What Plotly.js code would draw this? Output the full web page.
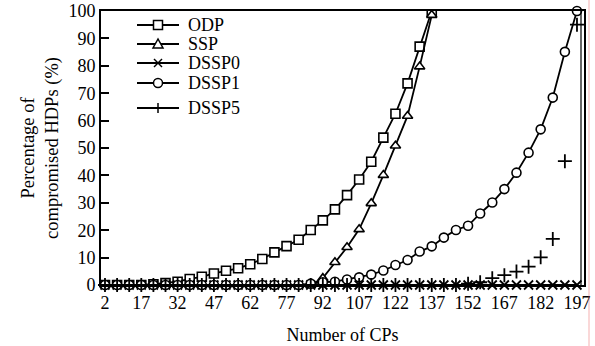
<!DOCTYPE html>
<html>
<head>
<meta charset="utf-8">
<script src="https://cdn.plot.ly/plotly-3.0.1.min.js"></script>
<style>html,body{margin:0;padding:0;background:#fff;}#chart{width:595px;height:346px;}</style>
</head>
<body>
<div id="chart"></div>
<script>
// Number of CPs (x categories)
const numCPs = [2,7,12,17,22,27,32,37,42,47,52,57,62,67,72,77,82,87,92,97,102,107,112,117,122,127,132,137,142,147,152,157,162,167,172,177,182,187,192,197];
const tickCPs = [2,17,32,47,62,77,92,107,122,137,152,167,182,197];

// Percentage of compromised HDPs (%)
const odpX = [2,7,12,17,22,27,32,37,42,47,52,57,62,67,72,77,82,87,92,97,102,107,112,117,122,127,132,137];
const odp  = [0,0,0,0,0.3,0.7,1.2,2.2,3,4.2,5.2,6.1,7.6,9.5,11.9,14.2,16.5,20.1,23.6,27.6,32.8,38.5,45,53.8,62.5,73.6,87,100];
const sspX = [2,7,12,17,22,27,32,37,42,47,52,57,62,67,72,77,82,87,92,97,102,107,112,117,122,127,132,137];
const ssp  = [0,0,0,0,0,0,0,0,0,0,0,0,0,0,0,0,0,0,2.5,8.3,13.8,20.3,29.8,40.1,50.8,61.7,79.7,98.5];
const dssp0 = [0,0,0,0,0,0,0,0,0,0,0,0,0,0,0,0,0,0,0,0,0,0,0,0,0,0,0,0,0,0,0,0,0,0,0,0,0,0,0,0];
const dssp1 = [0,0,0,0,0,0,0,0,0,0,0,0,0,0,0,0,0,0.5,1,1.2,2,2.8,3.8,5.3,7.3,9.1,12.2,14.1,17.3,20.1,21.6,26.1,30.1,35,41,48.3,56.8,68.4,85.1,100];
const dssp5 = [0,0,0,0,0,0,0,0,0,0,0,0,0,0,0,0,0,0,0,0,0,0,0,0,0,0,0,0,0,0,0.5,1,2.5,3.6,4.9,6.7,10.1,16.8,45.2,95];

// Legend entries
const legendNames = ['ODP','SSP','DSSP0','DSSP1','DSSP5'];
const legendSymbols = ['square','triangle','x','circle','plus'];

const FAMILY = 'Liberation Serif';
const F = (sz) => ({family:FAMILY, size:sz, color:'#000'});
const L = () => ({color:'#000', width:1.8, dash:'solid'});
const mk = (symbol, size) => ({symbol:symbol, size:size, color:'#fff', line:{color:'#000', width:1.6}});
const mkx = (symbol, size) => ({symbol:symbol, size:size, color:'#000', line:{color:'#000', width:1.8}});

const traces = [
  {x:odpX, y:odp, name:'ODP', mode:'lines+markers', line:L(), marker:mk('square',9), cliponaxis:true},
  {x:sspX, y:ssp, name:'SSP', mode:'lines+markers', line:L(), marker:mk('triangle-up',9), cliponaxis:false},
  {x:numCPs, y:dssp0, name:'DSSP0', mode:'lines+markers', line:L(), marker:mkx('x-thin-open',9), cliponaxis:false},
  {x:numCPs, y:dssp1, name:'DSSP1', mode:'lines+markers', line:L(), marker:mk('circle',9), cliponaxis:false},
  {x:numCPs, y:dssp5, name:'DSSP5', mode:'markers', marker:mkx('cross-thin-open',10), cliponaxis:false}
];

// plot-area geometry (pixels) used for the hand-drawn legend
const PL = 101, PR = 584, PT = 11, PB = 285;
const px = p => (p - PL) / (PR - PL);
const py = p => (PB - p) / (PB - PT);

const shapes = [];
const annotations = [];
const legendRows = [25, 44, 63, 83, 108];
const stroke = {color:'#000', width:1.5};
legendNames.forEach((name, i) => {
  const cy = legendRows[i], cx = 158;
  shapes.push({type:'line', xref:'paper', yref:'paper', x0:px(137), x1:px(179), y0:py(cy), y1:py(cy), line:{color:'#000', width:1.8}});
  const s = legendSymbols[i];
  if (s === 'square') {
    shapes.push({type:'rect', xref:'paper', yref:'paper', x0:px(cx-4.5), x1:px(cx+4.5), y0:py(cy-4.5), y1:py(cy+4.5), fillcolor:'#fff', line:stroke});
  } else if (s === 'circle') {
    shapes.push({type:'circle', xref:'paper', yref:'paper', x0:px(cx-4.5), x1:px(cx+4.5), y0:py(cy-4.5), y1:py(cy+4.5), fillcolor:'#fff', line:stroke});
  } else if (s === 'triangle') {
    shapes.push({type:'path', xref:'paper', yref:'paper',
      path:`M ${px(cx)} ${py(cy-5)} L ${px(cx-5)} ${py(cy+4)} L ${px(cx+5)} ${py(cy+4)} Z`, fillcolor:'#fff', line:stroke});
  } else if (s === 'x') {
    shapes.push({type:'line', xref:'paper', yref:'paper', x0:px(cx-4), x1:px(cx+4), y0:py(cy-4), y1:py(cy+4), line:stroke});
    shapes.push({type:'line', xref:'paper', yref:'paper', x0:px(cx-4), x1:px(cx+4), y0:py(cy+4), y1:py(cy-4), line:stroke});
  } else if (s === 'plus') {
    shapes.push({type:'line', xref:'paper', yref:'paper', x0:px(cx), x1:px(cx), y0:py(cy-5), y1:py(cy+5), line:stroke});
  }
  annotations.push({text:name, xref:'paper', yref:'paper', x:px(186), y:py(cy), xanchor:'left', yanchor:'middle', showarrow:false, font:F(18)});
});
// second (inner) right frame line and faint red page edge
shapes.push({type:'line', xref:'paper', yref:'paper', x0:px(581), x1:px(581), y0:0, y1:1, line:{color:'#000', width:1.2}});
shapes.push({type:'line', xref:'paper', yref:'paper', x0:px(589), x1:px(589), y0:py(346), y1:py(0), line:{color:'rgba(230,80,80,0.45)', width:1}});

const layout = {
  width:595, height:346,
  margin:{l:PL, r:595-PR, t:PT, b:346-PB},
  paper_bgcolor:'#fff', plot_bgcolor:'#fff',
  font:F(18),
  showlegend:false,
  xaxis:{
    range:[0.35, 199.9], tickmode:'array', tickvals:tickCPs, ticktext:tickCPs.map(String),
    showgrid:false, zeroline:false, showline:true, linecolor:'#000', linewidth:2, mirror:true,
    ticks:'', tickfont:F(18),
    title:{text:'Number of CPs', font:F(18), standoff:17}
  },
  yaxis:{
    range:[0, 100], dtick:10, tick0:0,
    showgrid:false, zeroline:false, showline:true, linecolor:'#000', linewidth:2, mirror:true,
    ticks:'inside', ticklen:8, tickwidth:2, tickcolor:'#000', tickfont:F(18),
    title:{text:'Percentage of<br>compromised HDPs (%)', font:F(18.5), standoff:5}
  },
  shapes:shapes,
  annotations:annotations
};

Plotly.newPlot('chart', traces, layout, {displayModeBar:false, staticPlot:true});
</script>
</body>
</html>
